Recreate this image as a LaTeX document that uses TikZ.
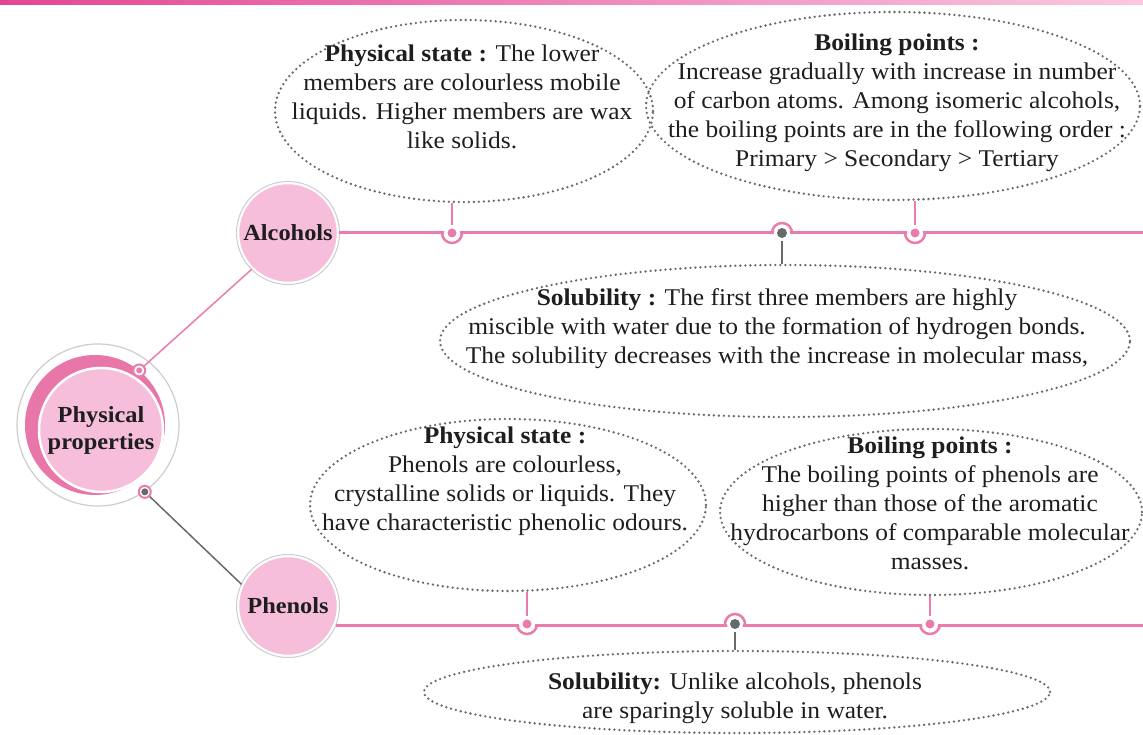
\documentclass[tikz,border=0pt]{standalone}
\usepackage{fontspec}
\setmainfont{Liberation Serif}[FakeStretch=1.06]
\usetikzlibrary{shapes.geometric}

\definecolor{pinkline}{RGB}{234,124,173}
\definecolor{pinkfill}{RGB}{246,190,218}
\definecolor{darkpink}{RGB}{232,118,168}
\definecolor{barleft}{RGB}{228,70,148}
\definecolor{barright}{RGB}{249,200,224}
\definecolor{dotgray}{RGB}{105,105,105}
\definecolor{ringgray}{RGB}{205,205,205}
\definecolor{inkgray}{RGB}{30,30,30}

\tikzset{
  bubble/.style={ellipse, draw=dotgray, line width=2.6pt, line cap=round,
    dash pattern=on 0pt off 5pt, inner sep=0pt},
  txt/.style={align=center, text=inkgray, inner sep=0pt,
    font=\fontsize{24}{29}\selectfont},
  topic/.style={circle, fill=pinkfill, draw=white, line width=2.5pt,
    minimum size=100pt, inner sep=0pt, align=center, text=inkgray,
    font=\fontsize{23}{27}\selectfont\bfseries},
}

% hook with dot on the line, bowl below
\newcommand{\cuphook}[1]{%
  \fill[white] (#1) circle (8);
  \draw[pinkline, line width=2.5pt] ([xshift=-10pt]#1) arc (180:360:10);
  \fill[pinkline] (#1) circle (4.5);
}
% hook with grey dot, cap above
\newcommand{\caphook}[1]{%
  \fill[white] (#1) circle (8);
  \draw[pinkline, line width=2.5pt] ([xshift=10pt]#1) arc (0:180:10);
  \fill[dotgray] (#1) circle (5);
}

\begin{document}
\begin{tikzpicture}[x=1pt, y=1pt]
  \useasboundingbox (0,0) rectangle (1143,735);
  \shade[left color=barleft, right color=barright] (0,730) rectangle (1143,735); % top bar
  %
  % centre circle
  \node[circle, draw=ringgray, line width=1.2pt, fill=white, minimum size=162pt] (hubRing) at (98,310) {};
  \node[circle, fill=darkpink, minimum size=140pt, inner sep=0pt] (hubDark) at (95,310) {};
  \node[topic, minimum size=124pt] (hub) at (101,305) {Physical\\properties};
  %
  % topic circles
  \node[topic] (alc) at (288,502) {Alcohols};
  \draw[ringgray, line width=1pt] (alc.center) circle (51.5);
  \node[topic] (phe) at (288,129) {Phenols};
  \draw[ringgray, line width=1pt] (phe.center) circle (51.5);
  %
  \coordinate (alcEnd) at (1143,502);
  \coordinate (pheEnd) at (1143,111);
  \draw[pinkline, line width=3pt] (alc.east) -- (alcEnd);       % alcohols line
  \draw[pinkline, line width=3pt] (phe.338) -- (phe.338 -| pheEnd); % phenols line
  \draw[pinkline, line width=1.5pt] (alc.225) -- (hubDark.51);
  \draw[dotgray, line width=1.5pt] (phe.155) -- (hubRing.305);
  \draw[pinkline, line width=2pt, fill=white] (hubDark.51) circle (6);
  \fill[pinkline] (hubDark.51) circle (3);
  \draw[pinkline, line width=2pt, fill=white] (hubRing.305) circle (6);
  \fill[dotgray] (hubRing.305) circle (3.5);
  %
  % alcohols bubbles
  \node[bubble, minimum width=378pt, minimum height=182pt] (alcState) at (464,624) {};
  \node[txt] (alcStateT) at (462,638) {\textbf{Physical state :} The lower\\members are colourless mobile\\liquids. Higher members are wax\\like solids.};
  \node[bubble, minimum width=494pt, minimum height=188pt] (alcBoil) at (893,629) {};
  \node[txt] (alcBoilT) at (897,632) {\textbf{Boiling points :}\\Increase gradually with increase in number\\of carbon atoms. Among isomeric alcohols,\\the boiling points are in the following order :\\Primary > Secondary > Tertiary};
  \node[bubble, minimum width=690pt, minimum height=152pt] (alcSol) at (785,394) {};
  \node[txt] (alcSolT) at (777,406) {\textbf{Solubility :} The first three members are highly\\miscible with water due to the formation of hydrogen bonds.\\The solubility decreases with the increase in molecular mass,};
  %
  % phenols bubbles
  \node[bubble, minimum width=396pt, minimum height=172pt] (pheState) at (508,230) {};
  \node[txt] (pheStateT) at (505,254) {\textbf{Physical state :}\\Phenols are colourless,\\crystalline solids or liquids. They\\have characteristic phenolic odours.};
  \node[bubble, minimum width=422pt, minimum height=166pt] (pheBoil) at (931,223) {};
  \node[txt] (pheBoilT) at (930,232) {\textbf{Boiling points :}\\The boiling points of phenols are\\higher than those of the aromatic\\hydrocarbons of comparable molecular\\masses.};
  \node[bubble, minimum width=626pt, minimum height=82pt] (pheSol) at (737,43) {};
  \node[txt] (pheSolT) at (735,37) {\textbf{Solubility:} Unlike alcohols, phenols\\are sparingly soluble in water.};
  %
  % connectors
  \coordinate (hAS) at (452,502);
  \coordinate (hAL) at (782,502);
  \coordinate (hAB) at (915,502);
  \coordinate (hPS) at (527,111);
  \coordinate (hPL) at (735,111);
  \coordinate (hPB) at (930,111);
  \draw[pinkline, line width=1.5pt] (alcState.south -| hAS) -- (hAS);
  \draw[pinkline, line width=1.5pt] (alcBoil.south -| hAB) -- (hAB);
  \draw[dotgray, line width=1.5pt] (hAL) -- (alcSol.north -| hAL);
  \draw[pinkline, line width=1.5pt] (pheState.south -| hPS) -- (hPS);
  \draw[pinkline, line width=1.5pt] (pheBoil.south -| hPB) -- (hPB);
  \draw[dotgray, line width=1.5pt] (hPL) -- (pheSol.north -| hPL);
  \cuphook{hAS}
  \caphook{hAL}
  \cuphook{hAB}
  \cuphook{hPS}
  \caphook{hPL}
  \cuphook{hPB}
\end{tikzpicture}
\end{document}
